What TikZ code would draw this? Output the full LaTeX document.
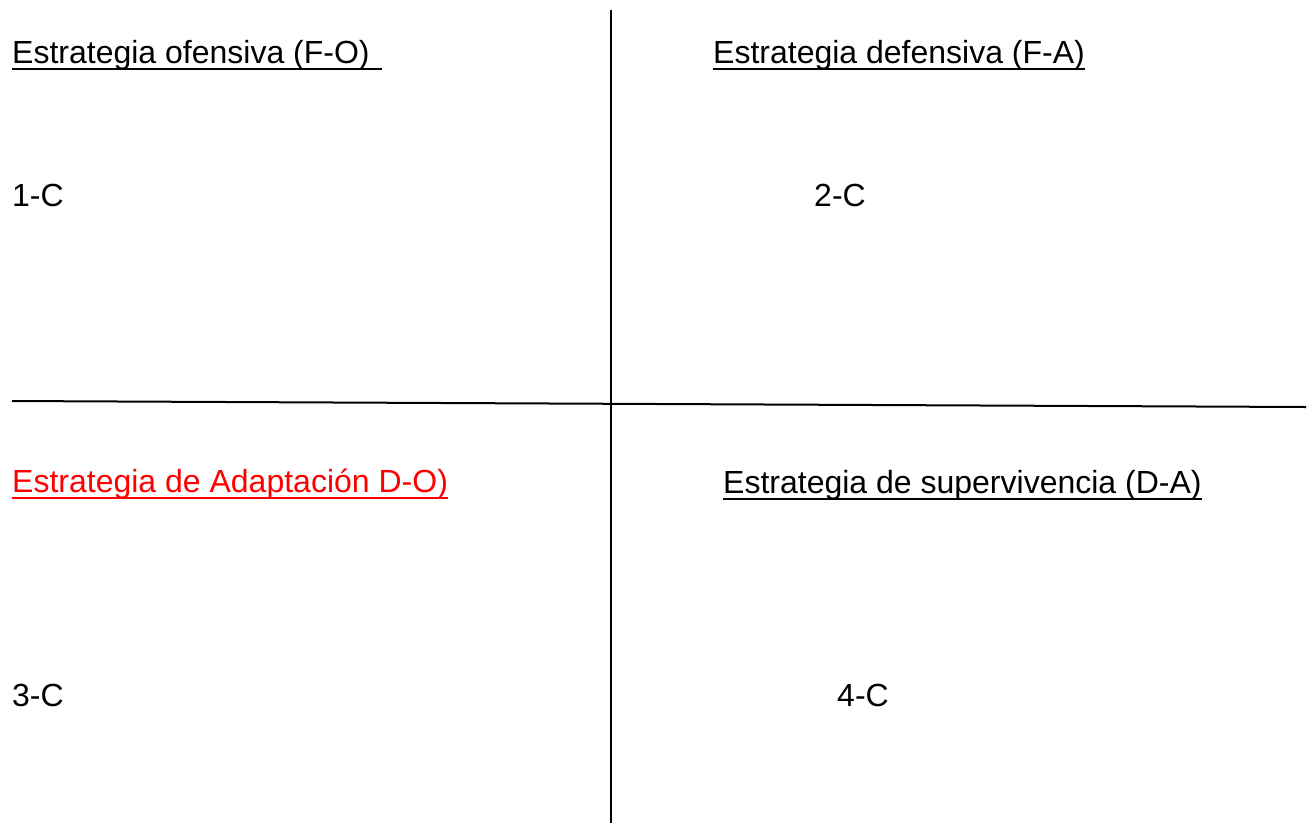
\documentclass[tikz,border=0pt]{standalone}
\usepackage{fontspec}
\setmainfont{Liberation Sans}
\definecolor{redtxt}{RGB}{255,0,0}
\tikzset{
  lbl/.style={anchor=base west, inner sep=0pt, font=\fontsize{32}{38}\selectfont},
  uline/.style={line width=2pt},
  axis/.style={line width=2pt, black}
}
\begin{document}
\begin{tikzpicture}[x=1pt, y=-1pt]
\useasboundingbox (0,0) rectangle (1308,823);
% axes
\coordinate (vt) at (611,10);
\coordinate (vb) at (611,823);
\coordinate (hl) at (12,401);
\coordinate (hr) at (1306,407);
\draw[axis] (vt) -- (vb);
\draw[axis] (hl) -- (hr);
% headings
\node[lbl] (h1) at (12,63) {Estrategia ofensiva (F-O)\hspace*{12pt}};
\node[lbl] (h2) at (713,63) {Estrategia defensiva (F-A)};
\node[lbl, text=redtxt] (h3) at (12,492) {Estrategia de Adaptación D-O)};
\node[lbl] (h4) at (723,493) {Estrategia de supervivencia (D-A)};
\foreach \n in {h1,h2,h4}{
  \draw[uline] ([yshift=-5.5pt]\n.base west) -- ([yshift=-5.5pt]\n.base east);
}
\draw[uline, redtxt] ([yshift=-5.5pt]h3.base west) -- ([yshift=-5.5pt]h3.base east);
% labels
\node[lbl] (c1) at (12,206) {1-C};
\node[lbl] (c2) at (814,206) {2-C};
\node[lbl] (c3) at (12,706) {3-C};
\node[lbl] (c4) at (837,706) {4-C};
\end{tikzpicture}
\end{document}
